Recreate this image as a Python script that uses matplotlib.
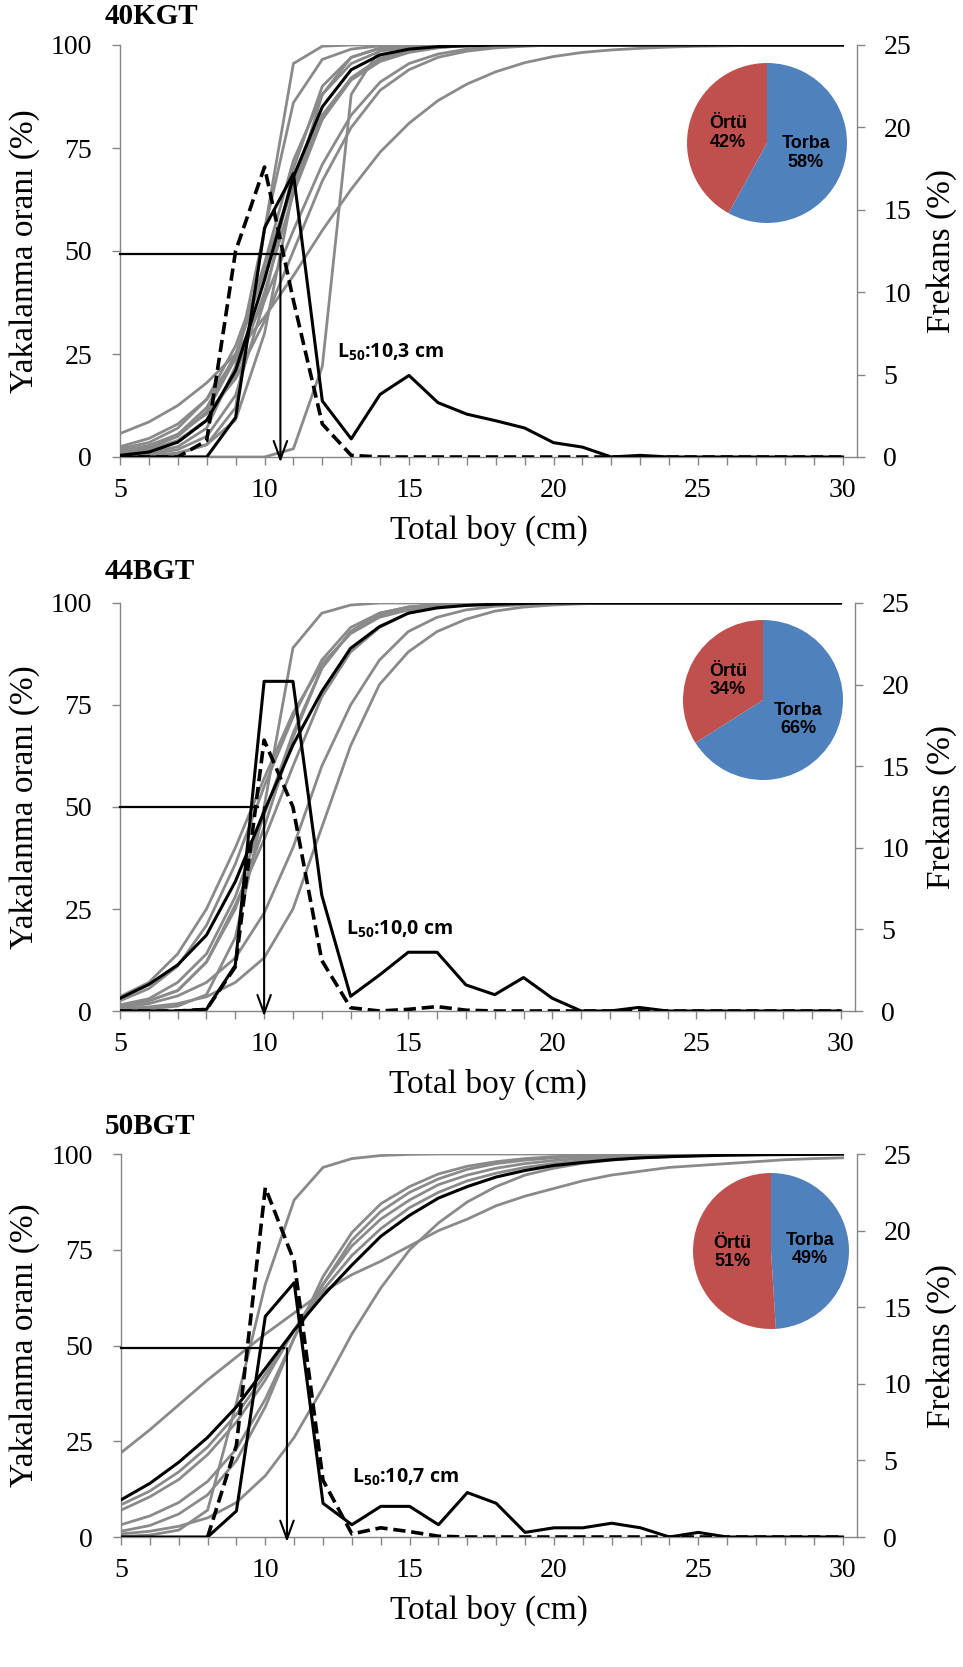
import matplotlib
matplotlib.use("Agg")
import matplotlib.pyplot as plt
import numpy as np

plt.rcParams["font.family"] = "Liberation Serif"
plt.rcParams["mathtext.fontset"] = "custom"
plt.rcParams["mathtext.rm"] = "Open Sans:bold"
plt.rcParams["mathtext.bf"] = "Open Sans:bold"

FIG_W, FIG_H = 963, 1667
GREY = "#8a8a8a"
AXIS_GREY = "#868686"
BLUE = "#4F81BD"
RED = "#C0504D"

# total length classes (cm)
length_cm = np.arange(5, 31)

# ---- 40KGT ----
kgt40_grey = [
    [0, 0.2, 0.8, 3, 12, 55, 95.5, 99.7, 100, 100, 100, 100, 100, 100, 100, 100, 100, 100, 100, 100, 100, 100, 100, 100, 100, 100],
    [0.5, 1, 2.5, 7, 22, 55, 86, 96.5, 99, 99.8, 100, 100, 100, 100, 100, 100, 100, 100, 100, 100, 100, 100, 100, 100, 100, 100],
    [1, 2.2, 5, 11, 24, 47, 72, 88, 95.5, 98.5, 99.5, 99.8, 100, 100, 100, 100, 100, 100, 100, 100, 100, 100, 100, 100, 100, 100],
    [2, 3.5, 7, 14, 27, 46, 67, 83, 92, 96.5, 98.5, 99.4, 99.8, 100, 100, 100, 100, 100, 100, 100, 100, 100, 100, 100, 100, 100],
    [5.7, 8.5, 12.5, 18, 25, 34, 44, 55, 65, 74, 81, 86.5, 90.5, 93.5, 95.7, 97.2, 98.2, 98.8, 99.2, 99.5, 99.7, 99.8, 99.9, 99.9, 100, 100],
    [0, 0, 0, 0, 0, 0, 2, 22, 88, 99, 100, 100, 100, 100, 100, 100, 100, 100, 100, 100, 100, 100, 100, 100, 100, 100],
    [1.5, 2.8, 5.5, 10.5, 19, 33, 50, 67, 80, 89, 94, 97, 98.5, 99.3, 99.7, 100, 100, 100, 100, 100, 100, 100, 100, 100, 100, 100],
    [0.8, 1.8, 4, 9, 20, 40, 64, 82, 92, 96.8, 98.8, 99.5, 100, 100, 100, 100, 100, 100, 100, 100, 100, 100, 100, 100, 100, 100],
    [1.2, 2.5, 5.5, 12, 25, 45, 66, 82, 91.5, 96, 98.2, 99.3, 100, 100, 100, 100, 100, 100, 100, 100, 100, 100, 100, 100, 100, 100],
    [0.3, 0.7, 1.8, 5, 15, 38, 70, 90, 97, 99.2, 100, 100, 100, 100, 100, 100, 100, 100, 100, 100, 100, 100, 100, 100, 100, 100],
    [0, 0.3, 1, 3, 9, 30, 65, 88, 97, 99.3, 100, 100, 100, 100, 100, 100, 100, 100, 100, 100, 100, 100, 100, 100, 100, 100],
    [2.5, 4.5, 8, 14, 24, 38, 55, 71, 83, 91, 95.5, 97.8, 99, 99.5, 100, 100, 100, 100, 100, 100, 100, 100, 100, 100, 100, 100],
]
kgt40_mean = [0.4, 1.2, 3.6, 8.9, 21, 43, 68, 85, 94, 97.6, 99, 99.6, 99.8, 100, 100, 100, 100, 100, 100, 100, 100, 100, 100, 100, 100, 100]
kgt40_freq_solid = [0, 0, 0, 0, 2.4, 13.9, 17.2, 3.4, 1.1, 3.8, 4.95, 3.3, 2.6, 2.2, 1.76, 0.87, 0.6, 0, 0.1, 0, 0, 0, 0, 0, 0, 0]
kgt40_freq_dashed = [0, 0, 0, 1.0, 12.5, 17.6, 9.5, 2.0, 0.1, 0, 0, 0, 0, 0, 0, 0, 0, 0, 0, 0, 0, 0, 0, 0, 0, 0]

# ---- 44BGT ----
bgt44_grey = [
    [0.2, 0.5, 1.2, 4, 18, 50, 89, 97.5, 99.5, 100, 100, 100, 100, 100, 100, 100, 100, 100, 100, 100, 100, 100, 100, 100, 100, 100],
    [3.5, 7, 14, 25, 40, 57, 73, 85, 92.5, 96.5, 98.3, 99.2, 99.6, 99.8, 100, 100, 100, 100, 100, 100, 100, 100, 100, 100, 100, 100],
    [2.5, 5.5, 11, 21, 36, 55, 72, 86, 94, 97.5, 99, 99.6, 100, 100, 100, 100, 100, 100, 100, 100, 100, 100, 100, 100, 100, 100],
    [1.5, 3, 7, 14, 28, 48, 68, 84, 93, 97, 99, 99.6, 100, 100, 100, 100, 100, 100, 100, 100, 100, 100, 100, 100, 100, 100],
    [1, 2.5, 5, 12, 25, 45, 67, 84, 93, 97.5, 99, 99.6, 100, 100, 100, 100, 100, 100, 100, 100, 100, 100, 100, 100, 100, 100],
    [1, 2.5, 5, 12, 26, 42, 60, 77, 88, 94, 97.5, 99, 99.6, 100, 100, 100, 100, 100, 100, 100, 100, 100, 100, 100, 100, 100],
    [0.8, 1.8, 3.7, 7, 13, 24, 40, 60, 75, 86, 93, 96.5, 98.3, 99.2, 99.6, 99.8, 100, 100, 100, 100, 100, 100, 100, 100, 100, 100],
    [0.5, 1, 1.8, 3.5, 7, 13, 25, 45, 65, 80, 88, 93, 96, 98, 99, 99.5, 99.8, 100, 100, 100, 100, 100, 100, 100, 100, 100],
]
bgt44_mean = [3.1, 6.5, 11.3, 18.6, 31.7, 48.9, 65.2, 78.3, 88.9, 94.2, 97.5, 98.8, 99.4, 99.7, 99.9, 100, 100, 100, 100, 100, 100, 100, 100, 100, 100, 100]
bgt44_freq_solid = [0, 0, 0, 0.1, 2.8, 20.2, 20.2, 7.1, 0.9, 2.2, 3.6, 3.6, 1.6, 1.0, 2.05, 0.78, 0, 0, 0.22, 0, 0, 0, 0, 0, 0, 0]
bgt44_freq_dashed = [0, 0, 0, 0.1, 2.7, 16.6, 12.5, 3.1, 0.2, 0, 0.1, 0.27, 0.05, 0, 0, 0, 0, 0, 0, 0, 0, 0, 0, 0, 0, 0]

# ---- 50BGT ----
bgt50_grey = [
    [0.1, 0.5, 1.8, 7, 35, 66, 88, 96.5, 98.8, 99.6, 99.9, 100, 100, 100, 100, 100, 100, 100, 100, 100, 100, 100, 100, 100, 100, 100],
    [22, 28, 34.5, 41, 47, 53, 58.5, 64, 68.5, 72, 76, 80, 83, 86.5, 89, 91, 93, 94.5, 95.5, 96.5, 97, 97.5, 98, 98.5, 98.8, 99],
    [0.8, 1.5, 2.8, 5, 9, 16, 26, 39, 53, 65, 75, 82, 87.5, 91.5, 94.5, 96.3, 97.6, 98.4, 99, 99.3, 99.6, 99.7, 99.8, 99.9, 99.9, 100],
    [8.4, 12, 17, 23.5, 32, 42.5, 54, 64.5, 73.5, 80.5, 86, 90, 93, 95, 96.5, 97.5, 98.3, 98.8, 99.2, 99.5, 99.6, 99.7, 99.8, 99.9, 99.9, 100],
    [7, 10.5, 15, 21.5, 30, 41, 54, 66, 76, 83, 88, 92, 94.5, 96.3, 97.5, 98.3, 98.9, 99.3, 99.5, 99.7, 99.8, 99.9, 99.9, 100, 100, 100],
    [3.2, 5.5, 9, 14.5, 23, 36, 52, 66, 77.5, 85, 90, 93.5, 96, 97.5, 98.4, 99, 99.4, 99.6, 99.8, 99.9, 100, 100, 100, 100, 100, 100],
    [1.5, 3, 6, 11, 20, 34, 52, 68, 79.5, 87, 91.5, 94.8, 96.8, 98, 98.8, 99.3, 99.6, 99.8, 99.9, 100, 100, 100, 100, 100, 100, 100],
]
bgt50_mean = [9.7, 14, 19.5, 26, 34, 44, 54, 63, 71, 78.5, 84, 88.5, 91.5, 94, 95.7, 97, 97.8, 98.5, 99, 99.3, 99.5, 99.7, 99.8, 99.85, 99.9, 100]
bgt50_freq_solid = [0, 0, 0, 0, 1.7, 14.4, 16.6, 2.2, 0.8, 2.0, 2.0, 0.8, 2.9, 2.2, 0.3, 0.6, 0.6, 0.9, 0.6, 0, 0.3, 0, 0, 0, 0, 0]
bgt50_freq_dashed = [np.nan, np.nan, np.nan, 0, 6, 22.8, 18, 3.7, 0.2, 0.6, 0.35, 0.05, 0, 0, 0, 0, 0, 0, 0, 0, 0, 0, 0, 0, 0, 0]

# catch share (%) in codend (Torba) and cover (Örtü)
torba_share = [58, 66, 49]
ortu_share = [42, 34, 51]

panel_titles = ["40KGT", "44BGT", "50BGT"]
l50_labels = ["10,3", "10,0", "10,7"]
l50_arrow_x = [10.55, 10.0, 10.75]
l50_hline_end = [10.45, 9.8, 10.65]
l50_hline_y = [49.3, 50, 49.3]

title_y = [17, 571, 1126]


def px_rect(left, top, right, bottom):
    return [left / FIG_W, 1 - bottom / FIG_H, (right - left) / FIG_W, (bottom - top) / FIG_H]


def draw_panel(fig, box, pie_box, idx, grey_curves, mean_curve, freq_solid, freq_dashed, label_pos):
    left, top, right, bottom = box
    ax = fig.add_axes(px_rect(left, top, right, bottom))
    ax2 = ax.twinx()

    for curve in grey_curves:
        ax.plot(length_cm, curve, color=GREY, lw=2.0, solid_joinstyle="round", zorder=2)
    ax.plot(length_cm, mean_curve, color="black", lw=2.2, solid_joinstyle="round", zorder=3)

    ax2.plot(length_cm, freq_solid, color="black", lw=2.2, solid_joinstyle="round", zorder=3)
    ax2.plot(length_cm, freq_dashed, color="black", lw=2.6, ls=(0, (3.4, 1.6)), zorder=3)

    # L50 guide: horizontal line at 50 % and arrow down to the length axis
    ax.plot([5, l50_hline_end[idx]], [l50_hline_y[idx]] * 2, color="black", lw=1.6, zorder=4, clip_on=False)
    ax.annotate("", xy=(l50_arrow_x[idx], -1.3), xytext=(l50_arrow_x[idx], l50_hline_y[idx]),
                arrowprops=dict(arrowstyle="->,head_length=0.6,head_width=0.22", lw=1.5, color="black",
                                mutation_scale=22, shrinkA=0, shrinkB=0),
                annotation_clip=False, zorder=4)
    ax.text(label_pos[0], label_pos[1], f"L$_{{50}}$:{l50_labels[idx]} cm", fontfamily="Open Sans",
            fontweight="bold", fontsize=14, va="center", ha="left", zorder=5)

    ax.set_xlim(5, 30.5)
    ax.set_ylim(0, 100)
    ax2.set_ylim(0, 25)
    ax.set_xticks(range(5, 31, 5))
    ax.set_xticks(range(5, 31), minor=True)
    ax.set_yticks([0, 25, 50, 75, 100])
    ax2.set_yticks([0, 5, 10, 15, 20, 25])

    ax.tick_params(axis="x", which="both", direction="out", length=6, width=1, color=AXIS_GREY,
                   labelsize=20, pad=9)
    ax.tick_params(axis="y", direction="out", length=6, width=1, color=AXIS_GREY, labelsize=20, pad=14)
    ax2.tick_params(axis="y", direction="out", length=6, width=1, color=AXIS_GREY, labelsize=20, pad=13)

    for a in (ax, ax2):
        a.spines["top"].set_visible(False)
        for s in ("left", "right", "bottom"):
            a.spines[s].set_color(AXIS_GREY)
            a.spines[s].set_linewidth(1)
    ax.spines["right"].set_visible(False)
    ax2.spines["left"].set_visible(False)
    ax2.spines["bottom"].set_visible(False)
    ax.patch.set_visible(False)

    # titles and axis labels
    fig.text(105 / FIG_W, 1 - title_y[idx] / FIG_H, panel_titles[idx], fontsize=21, fontweight="bold",
             ha="left", va="center")
    mid_y = 1 - (top + bottom) / 2 / FIG_H
    fig.text(25 / FIG_W, mid_y, "Yakalanma oranı (%)", rotation=90, fontsize=24, ha="center", va="center")
    fig.text(942 / FIG_W, mid_y, "Frekans (%)", rotation=90, fontsize=24, ha="center", va="center")
    fig.text((left + right) / 2 / FIG_W, 1 - (bottom + 73) / FIG_H, "Total boy (cm)", fontsize=24,
             ha="center", va="center")

    # catch share pie
    cx, cy, r = pie_box
    axp = fig.add_axes(px_rect(cx - r, cy - r, cx + r, cy + r))
    wedges, texts = axp.pie([torba_share[idx], ortu_share[idx]], colors=[BLUE, RED], startangle=90,
                            counterclock=False, labeldistance=0.5,
                            labels=[f"Torba\n{torba_share[idx]}%", f"Örtü\n{ortu_share[idx]}%"],
                            wedgeprops=dict(linewidth=0),
                            textprops=dict(fontfamily="Liberation Sans", fontweight="bold", fontsize=13,
                                           color="black", linespacing=1.1))
    for t in texts:
        t.set_ha("center")
        t.set_va("center")
    axp.set_aspect("auto")
    axp.set_xlim(-1, 1)
    axp.set_ylim(-1, 1)
    return ax


fig = plt.figure(figsize=(FIG_W / 100, FIG_H / 100), dpi=100)

draw_panel(fig, (120, 45, 857, 457), (767, 143, 80), 0, kgt40_grey, kgt40_mean,
           kgt40_freq_solid, kgt40_freq_dashed, (12.5, 25.5))
draw_panel(fig, (120, 603, 855, 1011), (763, 700, 80), 1, bgt44_grey, bgt44_mean,
           bgt44_freq_solid, bgt44_freq_dashed, (12.85, 20))
draw_panel(fig, (121, 1154, 857, 1537), (771, 1251, 78), 2, bgt50_grey, bgt50_mean,
           bgt50_freq_solid, bgt50_freq_dashed, (13.0, 15.7))

fig.savefig("out.png", dpi=100)
